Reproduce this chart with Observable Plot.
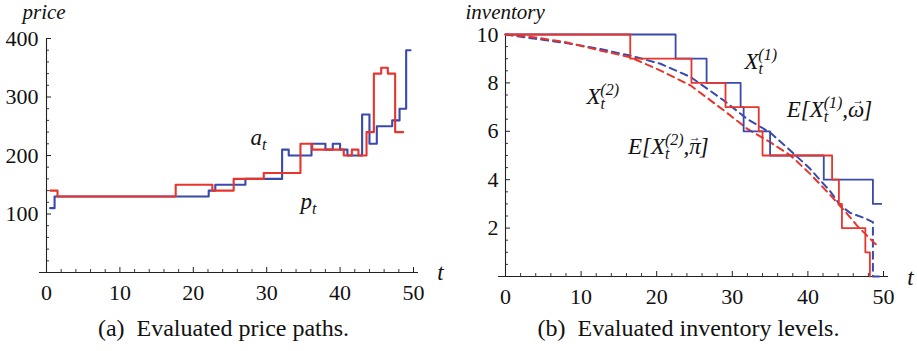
<!DOCTYPE html>
<html><head><meta charset="utf-8">
<script src="https://cdn.jsdelivr.net/npm/d3@7"></script>
<script src="https://cdn.jsdelivr.net/npm/@observablehq/plot@0.6"></script>
</head><body style="margin:0;background:#fff">
<div id="wrap" style="display:flex;width:917px;height:351px;overflow:hidden;background:#fff"></div>
<script>
// ---------- data: price paths (panel a) ----------
const aT = [0.5, 1.1, 22.1, 23, 27.1, 32.1, 33, 36.1, 38, 39, 40, 41, 43, 44, 45, 47.1, 48.1, 49, 49.6];
const aV = [110, 130, 140, 150, 160, 210, 200, 220, 210, 220, 210, 200, 270, 220, 250, 260, 280, 380, 380];
const pT = [0.5, 1.5, 17.6, 22.6, 25.5, 29.6, 34.6, 36.2, 40.5, 41.6, 42.5, 43.6, 44.6, 45.6, 46.5, 47.5, 48.6];
const pV = [140, 130, 150, 140, 160, 170, 220, 210, 200, 210, 200, 240, 340, 350, 340, 240, 240];
// ---------- data: inventory levels (panel b) ----------
const x1T = [0, 22.5, 26.6, 31.1, 31.5, 35.0, 42.1, 48.6, 49.7];
const x1V = [10, 9, 8, 7, 6, 5, 4, 3, 3];
const x2T = [0, 16.5, 24.6, 29.1, 33.5, 34.0, 43.2, 44.1, 44.5, 47.6, 48.2];
const x2V = [10, 9, 8, 7, 6, 5, 4, 3, 2, 1, 0];
const e1T = [0, 4, 8, 12.5, 16.5, 20.5, 24.5, 28.9, 32, 35, 37.7, 40.3, 43, 44.3, 45.6, 47.6, 48.6, 48.6, 49.6];
const e1V = [10, 9.82, 9.65, 9.4, 9.13, 8.79, 8.24, 7.27, 6.5, 5.95, 5.2, 4.45, 3.5, 2.93, 2.63, 2.4, 2.25, 0, 0];
const e2T = [0, 4, 8, 12.5, 16.5, 20.5, 24.5, 28.9, 32, 35, 37.7, 40.3, 43, 45.2, 46.5, 48.9, 49.4];
const e2V = [10, 9.88, 9.68, 9.34, 9.06, 8.51, 7.89, 6.86, 6.1, 5.55, 5.0, 4.24, 3.35, 2.59, 2.1, 1.35, 1.28];
// ---------- ticks ----------
const tLabels = [0, 10, 20, 30, 40, 50];
const tMinor = [2,4,6,8,12,14,16,18,22,24,26,28,32,34,36,38,42,44,46,48];
const priceLabels = [100, 200, 300, 400];
const priceMinor = [20,40,60,80,120,140,160,180,220,240,260,280,320,340,360,380];
const invLabels = [2, 4, 6, 8, 10];
const invMinor = [0.5,1,1.5,2.5,3,3.5,4.5,5,5.5,6.5,7,7.5,8.5,9,9.5];
// ---------- texts ----------
const priceLabel = "price", invLabel = "inventory", tLabel = "t";
const captionA = "(a)  Evaluated price paths.";
const captionB = "(b)  Evaluated inventory levels.";
const priceNotes = [
  {x: 27.8, y: 230, parts: [["a","n"],["t","sub"]]},
  {x: 34.6, y: 122, parts: [["p","n"],["t","sub"]]}
];
const invNotes = [
  {x: 31.6, y: 8.88, parts: [["X","n"],["t","sub"],["(1)","sup"]]},
  {x: 10.7, y: 7.44, parts: [["X","n"],["t","sub"],["(2)","sup"]]},
  {x: 37.2, y: 6.89, parts: [["E[X","n"],["t","sub"],["(1)","sup"],[",\u03C9","n"],["\u2192","over"],["]","n"]]},
  {x: 16.2, y: 5.37, parts: [["E[X","n"],["t","sub"],["(2)","sup"],[",\u03C0","n"],["\u2192","over"],["]","n"]]}
];

const BLUE = "#3949ad", RED = "#e7352c", INK = "#222";
const zip = (T, V) => T.map((t, i) => ({t, v: V[i]}));

function axesMarks(minorY, labelsY, yPad) {
  return [
    Plot.ruleY([0], {stroke: INK, strokeWidth: 1.1, insetLeft: -7, insetRight: -5}),
    Plot.ruleX([0], {stroke: INK, strokeWidth: 1.1}),
    Plot.ruleX(tLabels, {x: d => d, y1: 0, y2: 0, insetTop: -5, stroke: INK, strokeWidth: 1}),
    Plot.ruleX(tMinor, {x: d => d, y1: 0, y2: 0, insetTop: -3, stroke: INK, strokeWidth: 0.9}),
    Plot.ruleY(labelsY, {y: d => d, x1: 0, x2: 0, insetRight: -5, stroke: INK, strokeWidth: 1}),
    Plot.ruleY(minorY, {y: d => d, x1: 0, x2: 0, insetRight: -3, stroke: INK, strokeWidth: 0.9}),
    Plot.axisX({ticks: tLabels, tickSize: 0, tickPadding: 12, label: null, fontSize: 22, fill: "#111"}),
    Plot.axisY({ticks: labelsY, tickSize: 0, tickPadding: yPad, label: null, fontSize: 22, fill: "#111"})
  ];
}

const plain = n => n.parts.map(p => p[0]).join("");

function notesMark(notes) {
  return Plot.text(notes, {x: "x", y: "y", text: plain,
    textAnchor: "start", lineAnchor: "middle", fontSize: 23, fontStyle: "italic", fill: "#111"});
}

const SUB_T_W = 4.6, ARROW_BACK = 12, ARROW_FWD = -1;
function richify(svg, notes) {
  const texts = Array.from(svg.querySelectorAll("text"));
  for (const note of notes) {
    const el0 = texts.find(t => t.textContent === plain(note));
    if (!el0) continue;
    const el = d3.select(el0);
    el.text("");
    let cur = 0, prevKind = null;
    for (const [txt, kind] of note.parts) {
      const off = kind === "sub" ? 5 : kind === "sup" ? -9 : kind === "over" ? -13 : 0;
      const ts = el.append("tspan").text(txt).attr("dy", off - cur);
      if (kind === "sub" || kind === "sup") ts.attr("font-size", 16);
      if (kind === "over") ts.attr("font-size", 12).attr("font-style", "normal").attr("dx", -ARROW_BACK);
      if (kind === "sup" && prevKind === "sub") ts.attr("dx", -SUB_T_W);
      if (prevKind === "over") ts.attr("dx", ARROW_FWD);
      cur = off;
      prevKind = kind;
    }
  }
}

function panel(chart, caption, w, capW, gap) {
  const box = document.createElement("div");
  box.style.width = w + "px";
  box.style.flex = "none";
  box.style.marginRight = gap + "px";
  box.appendChild(chart);
  const c = document.createElement("div");
  c.style.cssText = "font-family:Liberation Serif;font-size:24px;line-height:28px;color:#111;white-space:pre;text-align:center;margin-top:4px;width:" + capW + "px";
  c.textContent = caption;
  box.appendChild(c);
  document.getElementById("wrap").appendChild(box);
}

// ---------- panel (a) ----------
const left = Plot.plot({
  width: 458, height: 310, marginLeft: 46, marginRight: 45, marginTop: 38, marginBottom: 38,
  style: {fontFamily: "Liberation Serif", fontSize: "22px", overflow: "visible"},
  x: {domain: [0, 50]},
  y: {domain: [0, 400]},
  marks: [
    ...axesMarks(priceMinor, priceLabels, 8),
    Plot.line(zip(aT, aV), {x: "t", y: "v", curve: "step-after", stroke: BLUE, strokeWidth: 2.1}),
    Plot.line(zip(pT, pV), {x: "t", y: "v", curve: "step-after", stroke: RED, strokeWidth: 2.1}),
    Plot.text([priceLabel], {frameAnchor: "top-left", text: d => d, dx: -24, dy: -26.7, textAnchor: "start", lineAnchor: "middle", fontSize: 21, fontStyle: "italic", fill: "#111"}),
    Plot.text([tLabel], {frameAnchor: "bottom-right", text: d => d, dx: 27, dy: 0, textAnchor: "middle", lineAnchor: "middle", fontSize: 23, fontStyle: "italic", fill: "#111"}),
    notesMark(priceNotes)
  ]
});
richify(left, priceNotes);
panel(left, captionA, 458, 447, 2);

// ---------- panel (b) ----------
const right = Plot.plot({
  width: 457, height: 310, marginLeft: 45, marginRight: 34, marginTop: 34, marginBottom: 34,
  style: {fontFamily: "Liberation Serif", fontSize: "22px", overflow: "visible"},
  x: {domain: [0, 50]},
  y: {domain: [0, 10]},
  marks: [
    ...axesMarks(invMinor, invLabels, 7),
    Plot.line(zip(e1T, e1V), {x: "t", y: "v", stroke: BLUE, strokeWidth: 2, strokeDasharray: "7,5"}),
    Plot.line(zip(e2T, e2V), {x: "t", y: "v", stroke: RED, strokeWidth: 2, strokeDasharray: "7,5"}),
    Plot.line(zip(x1T, x1V), {x: "t", y: "v", curve: "step-after", stroke: BLUE, strokeWidth: 1.8}),
    Plot.line(zip(x2T, x2V), {x: "t", y: "v", curve: "step-after", stroke: RED, strokeWidth: 1.8}),
    Plot.text([invLabel], {frameAnchor: "top-left", text: d => d, dx: -40, dy: -22.7, textAnchor: "start", lineAnchor: "middle", fontSize: 21, fontStyle: "italic", fill: "#111"}),
    Plot.text([tLabel], {frameAnchor: "bottom-right", text: d => d, dx: 27, dy: 1, textAnchor: "middle", lineAnchor: "middle", fontSize: 23, fontStyle: "italic", fill: "#111"}),
    notesMark(invNotes)
  ]
});
richify(right, invNotes);
panel(right, captionB, 457, 457, 0);
</script></body></html>
